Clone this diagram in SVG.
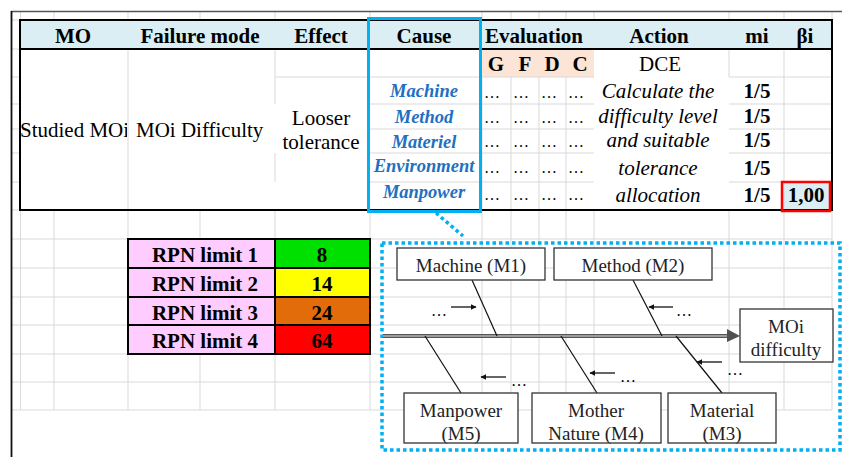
<svg xmlns="http://www.w3.org/2000/svg" width="842" height="457" viewBox="0 0 842 457" font-family="'Liberation Serif', 'Times New Roman', Times, 'DejaVu Serif', serif">
  <defs>
    <style>
      .grid { stroke: #d9d9d9; stroke-width: 1; fill: none; }
      text { font-family: "Liberation Serif", "Times New Roman", Times, "DejaVu Serif", serif; }
      .hdr { font-size: 21px; font-weight: bold; text-anchor: middle; fill: #000; }
      .body { font-size: 21px; fill: #000; }
      .cause { font-size: 18.5px; font-weight: bold; font-style: italic; fill: #1f70c1; text-anchor: middle; }
      .act { font-size: 21px; font-style: italic; fill: #000; text-anchor: middle; }
      .dots { font-size: 16px; fill: #000; }
      .bold { font-size: 21px; font-weight: bold; fill: #000; text-anchor: middle; }
      .fb-box { fill: #fff; stroke: #333; stroke-width: 1.3; }
      .fb-txt { font-size: 19px; fill: #222; text-anchor: middle; }
      .bone { stroke: #111; stroke-width: 1.2; fill: none; }
      .sub { stroke: #111; stroke-width: 1.3; fill: none; marker-end: url(#tip); }
    </style>
    <marker id="tip" viewBox="0 0 10 10" refX="9" refY="5" markerWidth="6" markerHeight="6" orient="auto" markerUnits="userSpaceOnUse">
      <path d="M0,0 L10,5 L0,10 z" fill="#111"/>
    </marker>
    <clipPath id="moClip"><rect x="20" y="49" width="107" height="161"/></clipPath>
  </defs>

  <rect x="0" y="0" width="842" height="457" fill="#fff"/>

  <!-- spreadsheet grid -->
  <g id="sheet-grid">
    <path class="grid" d="M20.5,11V410 M54,11V410 M128,11V410 M200,11V410 M275,11V410 M370,11V410 M482,11V410 M511,11V410 M539,11V410 M566,11V410 M594,11V410 M729,11V410 M784,11V410 M832,11V410"/>
    <path class="grid" d="M11,20H832 M11,49H832 M11,77H832 M11,104H832 M11,129H832 M11,153H832 M11,182H832 M11,210H832 M11,239H832 M11,268H832 M11,297H832 M11,325H832 M11,354H832 M11,382H832 M11,410H832"/>
    <line x1="11" y1="11.5" x2="842" y2="11.5" stroke="#555" stroke-width="1.5"/>
    <line x1="11.5" y1="11" x2="11.5" y2="457" stroke="#111" stroke-width="1.8"/>
  </g>

  <!-- FMEA table -->
  <g id="fmea-table">
    <rect x="20" y="20" width="812" height="29" fill="#daeef3"/>
    <rect x="20" y="49" width="812" height="161" fill="#fff"/>
    <rect x="482" y="49" width="112" height="28" fill="#fce4d6"/>
    <rect x="782" y="182" width="48" height="28" fill="#daeef3"/>
    <!-- visible cell borders inside merged areas -->
    <path class="grid" d="M128,49V210 M275,77H370 M275,49V104 M275,153V182
      M370,77H482 M370,104H482 M370,129H482 M370,153H482 M370,182H482
      M482,77H594 M482,104H594 M482,129H594 M482,153H594 M482,182H594
      M482,77V210 M511,77V210 M539,77V210 M566,77V210
      M729,49V77 M729,77H832 M729,104H832 M729,129H832 M729,153H832 M729,182H832 M784,49V210"/>
    <rect x="20" y="20" width="812" height="190" fill="none" stroke="#000" stroke-width="2"/>
    <line x1="20" y1="49" x2="832" y2="49" stroke="#000" stroke-width="2"/>

    <g id="header">
      <text class="hdr" x="73" y="43">MO</text>
      <text class="hdr" x="200" y="43">Failure mode</text>
      <text class="hdr" x="321" y="43">Effect</text>
      <text class="hdr" x="424" y="43">Cause</text>
      <text class="hdr" x="534" y="43">Evaluation</text>
      <text class="hdr" x="659" y="43">Action</text>
      <text class="hdr" x="757" y="43">mi</text>
      <text class="hdr" x="805" y="43">βi</text>
    </g>

    <g id="mo-cell" clip-path="url(#moClip)">
      <text class="body" x="20" y="137">Studied MOi</text>
    </g>
    <text class="body" x="136" y="137">MOi Difficulty</text>
    <text class="body" x="321" y="125" text-anchor="middle">Looser</text>
    <text class="body" x="321" y="149" text-anchor="middle">tolerance</text>

    <g id="causes">
      <text class="cause" x="424" y="97">Machine</text>
      <text class="cause" x="424" y="123">Method</text>
      <text class="cause" x="424" y="148">Materiel</text>
      <text class="cause" x="424" y="172">Environment</text>
      <text class="cause" x="424" y="198">Manpower</text>
    </g>

    <g id="evaluation">
      <text class="bold" x="496" y="71">G</text>
      <text class="bold" x="525" y="71">F</text>
      <text class="bold" x="552" y="71">D</text>
      <text class="bold" x="580" y="71">C</text>
      <g>
        <text class="dots" x="484" y="98">…</text><text class="dots" x="513" y="98">…</text><text class="dots" x="541" y="98">…</text><text class="dots" x="568" y="98">…</text>
        <text class="dots" x="484" y="123">…</text><text class="dots" x="513" y="123">…</text><text class="dots" x="541" y="123">…</text><text class="dots" x="568" y="123">…</text>
        <text class="dots" x="484" y="147">…</text><text class="dots" x="513" y="147">…</text><text class="dots" x="541" y="147">…</text><text class="dots" x="568" y="147">…</text>
        <text class="dots" x="484" y="173">…</text><text class="dots" x="513" y="173">…</text><text class="dots" x="541" y="173">…</text><text class="dots" x="568" y="173">…</text>
        <text class="dots" x="484" y="200">…</text><text class="dots" x="513" y="200">…</text><text class="dots" x="541" y="200">…</text><text class="dots" x="568" y="200">…</text>
      </g>
    </g>

    <g id="action">
      <text class="body" x="660" y="71" text-anchor="middle">DCE</text>
      <text class="act" x="658" y="98">Calculate the</text>
      <text class="act" x="658" y="123">difficulty level</text>
      <text class="act" x="658" y="147">and suitable</text>
      <text class="act" x="658" y="175">tolerance</text>
      <text class="act" x="658" y="202">allocation</text>
    </g>

    <g id="weights">
      <text class="bold" x="757" y="98">1/5</text>
      <text class="bold" x="757" y="123">1/5</text>
      <text class="bold" x="757" y="147">1/5</text>
      <text class="bold" x="757" y="175">1/5</text>
      <text class="bold" x="757" y="202">1/5</text>
      <text class="bold" x="806" y="202">1,00</text>
      <rect x="782" y="182" width="48" height="29" fill="none" stroke="#ff0000" stroke-width="2.5"/>
    </g>

    <rect id="cause-highlight" x="368.5" y="18.5" width="112" height="193" fill="none" stroke="#00b0f0" stroke-width="3"/>
  </g>

  <!-- RPN limits -->
  <g id="rpn-limits">
    <rect x="128" y="239" width="147" height="115" fill="#ffccff"/>
    <rect x="275" y="239" width="95" height="29" fill="#00e000"/>
    <rect x="275" y="268" width="95" height="29" fill="#ffff00"/>
    <rect x="275" y="297" width="95" height="28" fill="#e26b0a"/>
    <rect x="275" y="325" width="95" height="29" fill="#ff0000"/>
    <path d="M128,239H370V354H128Z M128,268H370 M128,297H370 M128,325H370 M275,239V354" fill="none" stroke="#000" stroke-width="2"/>
    <text class="bold" x="205" y="262">RPN limit 1</text>
    <text class="bold" x="205" y="291">RPN limit 2</text>
    <text class="bold" x="205" y="320">RPN limit 3</text>
    <text class="bold" x="205" y="348">RPN limit 4</text>
    <text class="bold" x="322" y="262">8</text>
    <text class="bold" x="322" y="291">14</text>
    <text class="bold" x="322" y="320">24</text>
    <text class="bold" x="322" y="348">64</text>
  </g>

  <!-- zoom call-out to the cause-and-effect diagram -->
  <g id="callout" fill="none" stroke="#00b0f0" stroke-width="3.5" stroke-dasharray="3.5 3">
    <line x1="436" y1="213" x2="463" y2="236"/>
    <rect x="382" y="243" width="458" height="207"/>
  </g>

  <!-- fishbone connectors -->
  <g id="connectors">
    <line x1="383" y1="336" x2="729" y2="336" stroke="#555" stroke-width="4"/>
    <line x1="383" y1="336" x2="729" y2="336" stroke="#e6e6e6" stroke-width="1.2"/>
    <polygon points="727,329 740,336 727,342" fill="#505050"/>
    <line class="bone" x1="472" y1="280" x2="497" y2="336"/>
    <line class="bone" x1="633" y1="280" x2="662" y2="336"/>
    <line class="bone" x1="425" y1="336" x2="461" y2="393"/>
    <line class="bone" x1="561" y1="336" x2="597" y2="393"/>
    <line class="bone" x1="676" y1="336" x2="722" y2="393"/>
    <line class="sub" x1="451" y1="307" x2="476" y2="307"/>
    <line class="sub" x1="673" y1="307" x2="649" y2="307"/>
    <line class="sub" x1="722" y1="362" x2="697" y2="362"/>
    <line class="sub" x1="615" y1="373" x2="590" y2="373"/>
    <line class="sub" x1="506" y1="377" x2="481" y2="377"/>
    <text class="dots" x="431" y="316">…</text>
    <text class="dots" x="676" y="316">…</text>
    <text class="dots" x="727" y="375">…</text>
    <text class="dots" x="620" y="382">…</text>
    <text class="dots" x="511" y="386">…</text>
  </g>

  <g id="m1-machine">
    <rect class="fb-box" x="397" y="248" width="148" height="32"/>
    <text class="fb-txt" x="471" y="272">Machine (M1)</text>
  </g>
  <g id="m2-method">
    <rect class="fb-box" x="554" y="248" width="158" height="32"/>
    <text class="fb-txt" x="633" y="272">Method (M2)</text>
  </g>
  <g id="effect-moi">
    <rect class="fb-box" x="740" y="309" width="93" height="53"/>
    <text class="fb-txt" x="786" y="333">MOi</text>
    <text class="fb-txt" x="786" y="356">difficulty</text>
  </g>
  <g id="m5-manpower">
    <rect class="fb-box" x="404" y="393" width="114" height="50"/>
    <text class="fb-txt" x="461" y="417">Manpower</text>
    <text class="fb-txt" x="461" y="440">(M5)</text>
  </g>
  <g id="m4-mother-nature">
    <rect class="fb-box" x="532" y="393" width="129" height="50"/>
    <text class="fb-txt" x="596" y="417">Mother</text>
    <text class="fb-txt" x="596" y="440">Nature (M4)</text>
  </g>
  <g id="m3-material">
    <rect class="fb-box" x="668" y="393" width="108" height="50"/>
    <text class="fb-txt" x="722" y="417">Material</text>
    <text class="fb-txt" x="722" y="440">(M3)</text>
  </g>
</svg>
